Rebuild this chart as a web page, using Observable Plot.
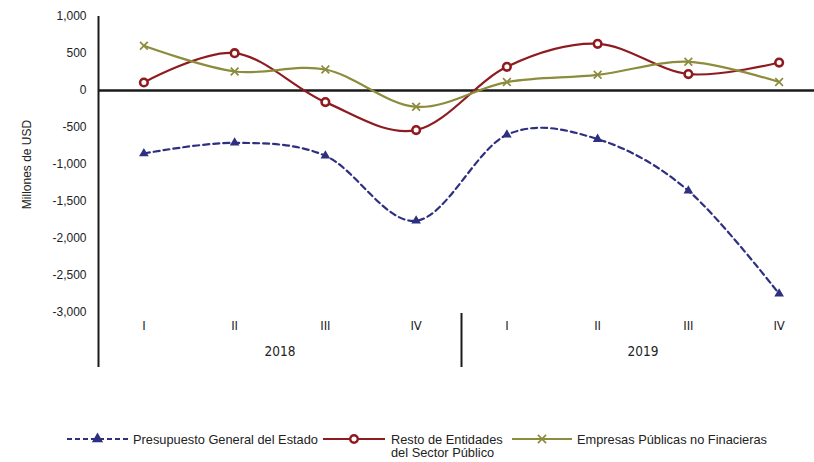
<!DOCTYPE html>
<html><head><meta charset="utf-8">
<script src="https://cdn.jsdelivr.net/npm/d3@7"></script>
<script src="https://cdn.jsdelivr.net/npm/@observablehq/plot@0.6"></script>
<style>
body{margin:0;background:#fff;}
#wrap{position:relative;width:814px;height:462px;overflow:hidden;font-family:"Liberation Sans",Arial,sans-serif;}
#wrap > svg.chart{position:absolute;left:0;top:0;}
#wrap > svg#legend{position:absolute;left:0;top:425px;}
</style></head><body><div id="wrap"></div>
<script>
const quarters = ["I","II","III","IV","I","II","III","IV"];
const years = ["2018","2019"];
const presupuesto = [-851, -707, -882, -1761, -599, -657, -1355, -2747];
const resto = [108, 505, -157, -535, 320, 631, 222, 378];
const empresas = [604, 257, 284, -220, 114, 212, 388, 114];
const yTicks = [1000, 500, 0, -500, -1000, -1500, -2000, -2500, -3000];
const seriesNames = ["Presupuesto General del Estado", "Resto de Entidades del Sector Público", "Empresas Públicas no Finacieras"];
const colors = ["#2d2f80", "#8e1b1f", "#8c8c3c"];

const toRows = arr => arr.map((v, i) => ({i, v}));
const rowsP = toRows(presupuesto), rowsR = toRows(resto), rowsE = toRows(empresas);
const qRows = quarters.map((q, i) => ({i, q}));
const yearRows = years.map((y, k) => ({x: k * 4 + 1.5, y}));
const fmt = d => d.toLocaleString("en-US");
const narrow = "'Liberation Sans Narrow','DejaVu Sans Condensed','Liberation Sans',Arial,sans-serif";

const chart = Plot.plot({
  width: 814, height: 380,
  marginTop: 16, marginBottom: 68, marginLeft: 98, marginRight: 0,
  className: "chart",
  style: {fontFamily: "'Liberation Sans',Arial,sans-serif", fontSize: "12px", color: "#222", background: "white", overflow: "hidden"},
  x: {domain: [-0.5, 7.5], range: [98, 824], axis: null},
  y: {domain: [-3000, 1000], axis: null},
  marks: [
    Plot.axisY({ticks: yTicks, tickSize: 0, tickPadding: 12, tickFormat: fmt, label: null, fontSize: 12, fill: "#222"}),
    Plot.text(["Millones de USD"], {frameAnchor: "left", textAnchor: "middle", rotate: -90, dx: -71, fontSize: 12, fill: "#222"}),
    Plot.ruleY([0], {stroke: "#1a1a1a", strokeWidth: 2.4}),
    Plot.ruleX([-0.5], {stroke: "#1a1a1a", strokeWidth: 2, insetBottom: -55}),
    Plot.ruleX([3.5], {stroke: "#1a1a1a", strokeWidth: 2, insetTop: 297, insetBottom: -55}),
    Plot.text(qRows, {x: "i", text: "q", frameAnchor: "bottom", dy: 17, fontFamily: narrow, fontSize: 13, fill: "#222"}),
    Plot.text(yearRows, {x: "x", text: "y", frameAnchor: "bottom", dy: 43, fontFamily: narrow, fontSize: 13.5, fill: "#222"}),
    Plot.line(rowsP, {x: "i", y: "v", curve: "cardinal", stroke: colors[0], strokeWidth: 2.2, strokeDasharray: "6,4"}),
    Plot.line(rowsR, {x: "i", y: "v", curve: "cardinal", stroke: colors[1], strokeWidth: 2.2}),
    Plot.line(rowsE, {x: "i", y: "v", curve: "cardinal", stroke: colors[2], strokeWidth: 2.2}),
    Plot.dot(rowsP, {x: "i", y: "v", symbol: "triangle2", fill: colors[0], r: 4.6}),
    Plot.dot(rowsR, {x: "i", y: "v", symbol: "circle", fill: "white", stroke: colors[1], strokeWidth: 2.6, r: 3.8}),
    Plot.dot(rowsE, {x: "i", y: "v", symbol: "times", stroke: colors[2], strokeWidth: 1.7, r: 3.6})
  ]
});
const wrap = document.getElementById("wrap");
wrap.appendChild(chart);

// Legend
const lg = d3.select(wrap).append("svg").attr("id", "legend").attr("width", 814).attr("height", 37)
  .style("font-family", "'Liberation Sans',Arial,sans-serif").style("font-size", "12.8px");
const items = [
  {x1: 67, x2: 128, tx: 133, dash: "5,3", sym: d3.symbolTriangle, size: 55, fill: colors[0], stroke: "none", sw: 0, lines: [seriesNames[0]]},
  {x1: 323, x2: 385, tx: 391, dash: null, sym: d3.symbolCircle, size: 45, fill: "white", stroke: colors[1], sw: 2.4, lines: ["Resto de Entidades", "del Sector Público"]},
  {x1: 512, x2: 572, tx: 577, dash: null, sym: d3.symbolX, size: 45, fill: "none", stroke: colors[2], sw: 1.7, lines: [seriesNames[2]]}
];
items.forEach((it, k) => {
  const cy = 14;
  lg.append("line").attr("x1", it.x1).attr("x2", it.x2).attr("y1", cy).attr("y2", cy)
    .attr("stroke", colors[k]).attr("stroke-width", 2.2).attr("stroke-dasharray", it.dash);
  lg.append("path").attr("d", d3.symbol(it.sym, it.size)())
    .attr("transform", `translate(${(it.x1 + it.x2) / 2},${cy})`)
    .attr("fill", it.fill).attr("stroke", it.stroke).attr("stroke-width", it.sw);
  it.lines.forEach((t, j) => {
    lg.append("text").attr("x", it.tx).attr("y", cy + 4.5 + j * 13.5).attr("fill", "#222").text(t);
  });
});
</script></body></html>
